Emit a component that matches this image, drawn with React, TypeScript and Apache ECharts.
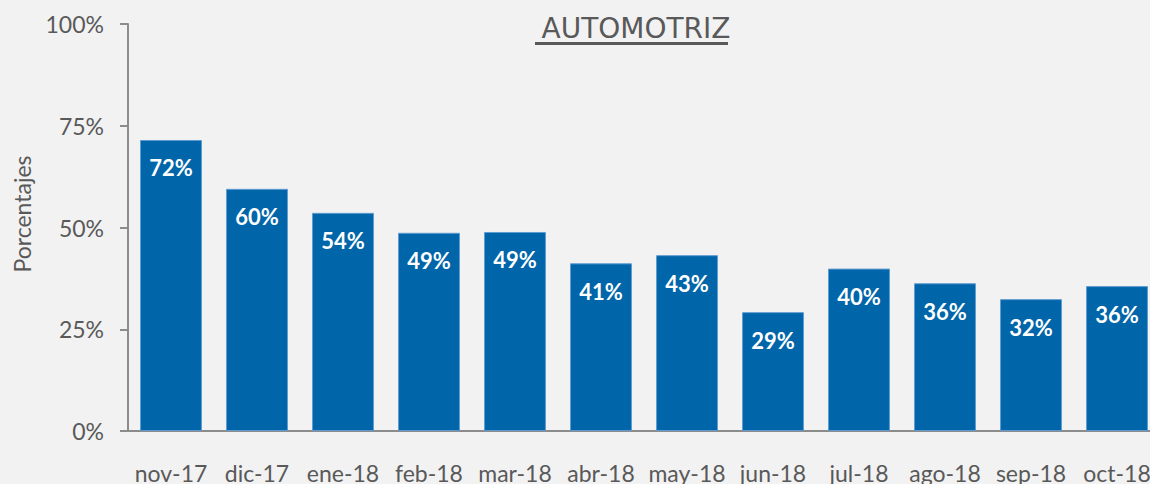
import React, { useEffect, useRef } from "react";
import * as echarts from "echarts";

const categories = ["nov-17", "dic-17", "ene-18", "feb-18", "mar-18", "abr-18", "may-18", "jun-18", "jul-18", "ago-18", "sep-18", "oct-18"];
const values = [71.5, 59.5, 53.6, 48.7, 48.9, 41.2, 43.2, 29.2, 39.9, 36.3, 32.4, 35.6];
const yTicks = [0, 25, 50, 75, 100];
const titleText = "AUTOMOTRIZ";
const yAxisName = "Porcentajes";

export default function App() {
  const ref = useRef<HTMLDivElement>(null);
  useEffect(() => {
    const chart = echarts.init(ref.current!, undefined, { renderer: "svg" });
    const grey = "#595959";
    chart.setOption({
      animation: false,
      backgroundColor: "#f2f2f2",
      title: {
        text: titleText,
        left: 631,
        top: 9,
        textAlign: "center",
        textStyle: { fontFamily: "DejaVu Sans", fontSize: 28, fontWeight: "normal", color: grey },
      },
      graphic: [
        { type: "rect", shape: { x: 535, y: 42, width: 193, height: 3 }, style: { fill: grey } },
        {
          type: "text",
          x: 22,
          y: 214,
          rotation: Math.PI / 2,
          style: {
            text: yAxisName,
            fill: grey,
            fontFamily: "Lato",
            fontSize: 23,
            textAlign: "center",
            textVerticalAlign: "middle",
          },
        },
      ],
      grid: { left: 128, top: 24, bottom: 53, width: 1032, containLabel: false, outerBoundsMode: "none" },
      xAxis: {
        type: "category",
        data: categories,
        axisLine: { lineStyle: { color: "#8c8c8c", width: 2 } },
        axisTick: { show: false },
        axisLabel: { color: grey, fontFamily: "Lato", fontSize: 23, margin: 30, interval: 0, hideOverlap: false },
      },
      yAxis: {
        type: "value",
        min: yTicks[0],
        max: yTicks[yTicks.length - 1],
        interval: 25,
        axisLine: { show: true, lineStyle: { color: "#8c8c8c", width: 2 } },
        axisTick: { show: true, length: 8, lineStyle: { color: "#8c8c8c", width: 2 } },
        splitLine: { show: false },
        axisLabel: { color: grey, fontFamily: "Lato", fontSize: 23, margin: 24, formatter: (v: number) => v + "%" },
      },
      series: [
        {
          type: "bar",
          data: values,
          barCategoryGap: "28%",
          itemStyle: { color: "#0065a9", borderColor: "#5f9bd0", borderWidth: 1 },
          label: {
            show: true,
            position: "insideTop",
            distance: 17,
            color: "#ffffff",
            fontFamily: "Lato",
            fontWeight: "bold",
            fontSize: 22,
            formatter: (p: any) => Math.round(p.value) + "%",
          },
        },
      ],
    });
    return () => chart.dispose();
  }, []);
  return <div ref={ref} style={{ position: "fixed", left: 0, top: 0, width: 1150, height: 484 }} />;
}
